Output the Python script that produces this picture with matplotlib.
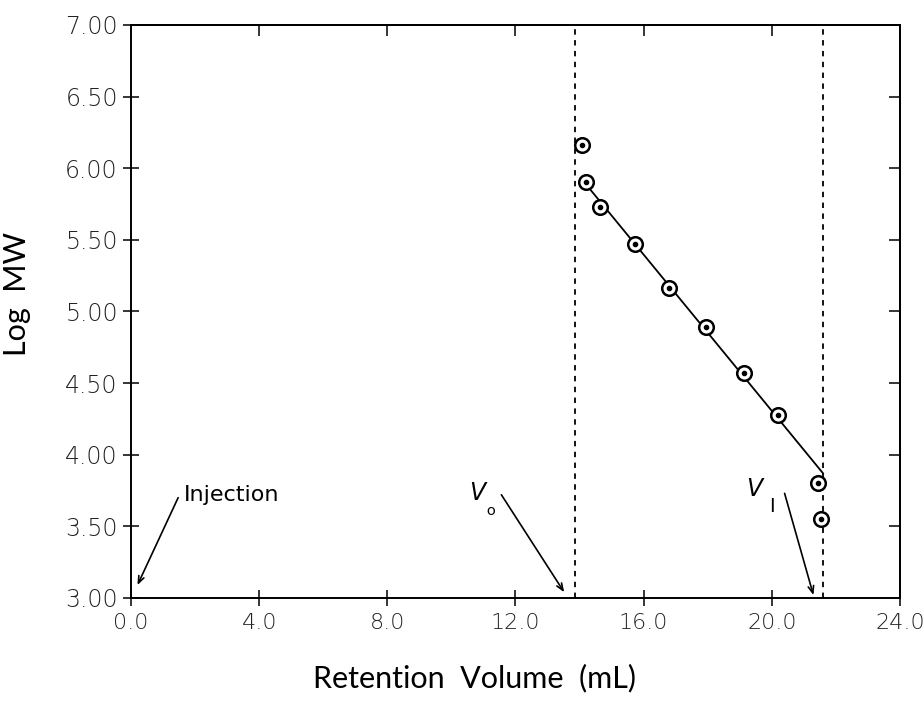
import numpy as np
import matplotlib
matplotlib.use("Agg")
import matplotlib.pyplot as plt

# calibration standards (retention volume in mL, log MW)
vol = [14.08, 14.2, 14.64, 15.73, 16.79, 17.94, 19.13, 20.19, 21.43, 21.53]
logmw = [6.16, 5.90, 5.73, 5.47, 5.16, 4.89, 4.57, 4.28, 3.80, 3.55]

# linear fit line end points as drawn
fit_x = [14.08, 21.6]
fit_y = [5.92, 3.87]

# void and total volume
v0 = 13.85
vt = 21.6

xticks = [0, 4, 8, 12, 16, 20, 24]
yticks = [3.0, 3.5, 4.0, 4.5, 5.0, 5.5, 6.0, 6.5, 7.0]

tick_font = "DejaVu Sans"
label_font = "Lato"

fig = plt.figure(figsize=(9.23, 7.11), dpi=100)
ax = fig.add_axes([0.142, 0.159, 0.833, 0.806])

ax.set_xlim(0, 24)
ax.set_ylim(3, 7)

# dashed markers for Vo and Vt
ax.plot([v0, v0], [3, 7], color="black", lw=1.3, ls=(0, (3, 3)))
ax.plot([vt, vt], [3, 7], color="black", lw=1.3, ls=(0, (3, 3)))

# fit line
ax.plot(fit_x, fit_y, color="black", lw=1.3)

# data points: circle with a dot inside
ax.plot(vol, logmw, ls="none", marker="o", ms=10.5, mfc="white", mec="black", mew=1.8, zorder=3)
ax.plot(vol, logmw, ls="none", marker="o", ms=3, color="black", zorder=4)

# annotations
arrow = dict(arrowstyle="->,head_length=0.5,head_width=0.2", color="black", lw=1.2,
             shrinkA=0, shrinkB=0)
ax.annotate("", xy=(0.2, 3.09), xytext=(1.47, 3.70), arrowprops=arrow)
ax.text(1.66, 3.72, "Injection", fontsize=16, family=["Liberation Sans Narrow", "DejaVu Sans"],
        va="center", ha="left")

ax.annotate("", xy=(13.52, 3.04), xytext=(11.56, 3.72), arrowprops=arrow)
ax.text(10.55, 3.73, "$V$", fontsize=17, va="center", ha="left")
ax.text(11.08, 3.61, "o", fontsize=11, va="center", ha="left", family=label_font)

ax.annotate("", xy=(21.3, 3.02), xytext=(20.4, 3.73), arrowprops=arrow)
ax.text(19.2, 3.76, "$V$", fontsize=17, va="center", ha="left")
ax.text(19.92, 3.64, "I", fontsize=14, va="center", ha="left", family="DejaVu Sans")

# ticks
ax.set_xticks(xticks)
ax.set_xticklabels(["%.1f" % t for t in xticks])
ax.set_yticks(yticks)
ax.set_yticklabels(["%.2f" % t for t in yticks])
ax.tick_params(axis="both", which="major", direction="inout", length=11, width=1.1,
               colors="black")
ax.tick_params(axis="x", pad=5, labelsize=16)
ax.tick_params(axis="y", pad=4, labelsize=17)
for lab in ax.get_xticklabels() + ax.get_yticklabels():
    lab.set_family(tick_font)
    lab.set_fontweight("light")
    lab.set_color("#222222")

# inward ticks on top and right
ax2 = ax.secondary_xaxis("top")
ax2.set_xticks(xticks[1:-1])
ax2.tick_params(direction="in", length=8, width=1.1, labeltop=False)
ax3 = ax.secondary_yaxis("right")
ax3.set_yticks(yticks[1:-1])
ax3.tick_params(direction="in", length=8, width=1.1, labelright=False)

for sp in ax.spines.values():
    sp.set_linewidth(1.4)
ax2.spines["top"].set_linewidth(1.4)
ax3.spines["right"].set_linewidth(1.4)

ax.set_xlabel("Retention  Volume  (mL)", fontsize=22, family=label_font, labelpad=10)
ax.xaxis.set_label_coords(0.447, -0.115)
ax.set_ylabel("Log  MW", fontsize=22, family=label_font)
ax.yaxis.set_label_coords(-0.13, 0.53)

fig.savefig("out.png", dpi=100)
